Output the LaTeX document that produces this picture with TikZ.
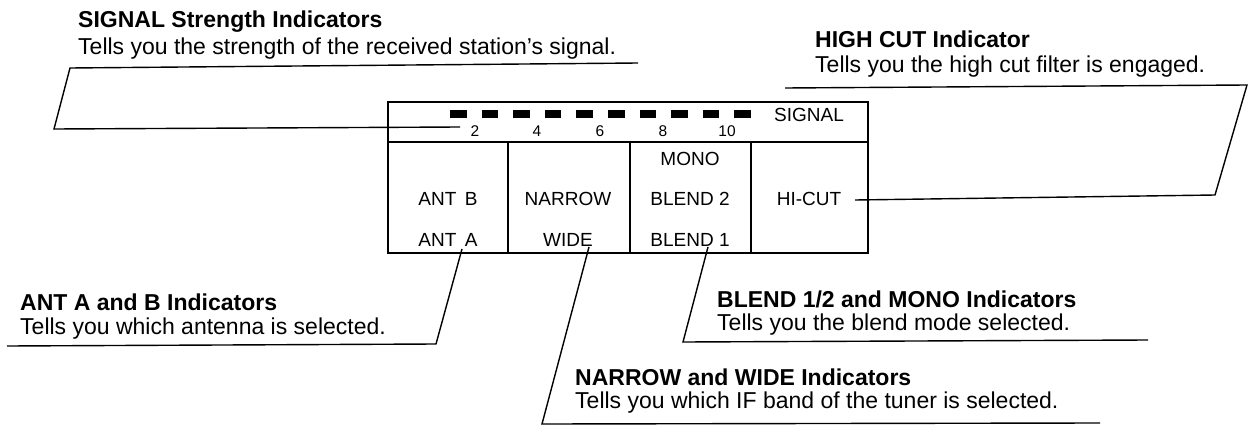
\documentclass[tikz,border=0pt]{standalone}
\usepackage{fontspec}
\setmainfont{Liberation Sans}
\begin{document}
\begin{tikzpicture}[x=1pt,y=-1pt,
  lead/.style={line width=1.4pt, line join=miter},
  panel/.style={line width=1.4pt},
  lbl/.style={font=\fontsize{19}{20}\selectfont, inner sep=0pt},
  num/.style={font=\fontsize{15.5}{16}\selectfont, inner sep=0pt},
  head/.style={font=\fontsize{23}{24}\selectfont\bfseries, inner sep=0pt, anchor=base west},
  desc/.style={font=\fontsize{23}{24}\selectfont, inner sep=0pt, anchor=base west},
  sigbar/.style={fill=black}]
\useasboundingbox (0,0) rectangle (1250,428);

% panel
\draw[panel] (388,102) rectangle (868,253);
\draw[panel] (388,142) -- (868,142);
\draw[panel] (508,142) -- (508,253);
\draw[panel] (630,142) -- (630,253);
\draw[panel] (751,142) -- (751,253);

% signal bars
\foreach \i in {0,...,9}
  \fill[sigbar] ({450+31.6*\i},110) rectangle ++(16.6,8);

% numbers
\node[num] (n2)  at (475,131) {2};
\node[num] (n4)  at (537,131) {4};
\node[num] (n6)  at (600,131) {6};
\node[num] (n8)  at (663,131) {8};
\node[num] (n10) at (727,131) {10};
\node[lbl] (sig) at (809,115) {SIGNAL};

% labels
\node[lbl] (antb)   at (448,199) {ANT\,\ B};
\node[lbl] (anta)   at (448,240) {ANT\,\ A};
\node[lbl] (narrow) at (568,199) {NARROW};
\node[lbl] (wide)   at (568,240) {WIDE};
\node[lbl] (mono)   at (690,159) {MONO};
\node[lbl] (blend2) at (690,199) {BLEND 2};
\node[lbl] (blend1) at (690,240) {BLEND 1};
\node[lbl] (hicut)  at (809,199) {HI-CUT};

% callout texts
\node[head] (sigH) at (78,28) {SIGNAL Strength Indicators};
\node[desc] (sigD) at (78,55) {Tells you the strength of the received station’s signal.};
\node[head] (hcH) at (815,48) {HIGH CUT Indicator};
\node[desc] (hcD) at (815,73) {Tells you the high cut filter is engaged.};
\node[head] (antH) at (20,310) {ANT A and B Indicators};
\node[desc] (antD) at (20,334) {Tells you which antenna is selected.};
\node[head] (blH) at (717,307) {BLEND 1/2 and MONO Indicators};
\node[desc] (blD) at (717,330) {Tells you the blend mode selected.};
\node[head] (nwH) at (575,385) {NARROW and WIDE Indicators};
\node[desc] (nwD) at (575,408) {Tells you which IF band of the tuner is selected.};

% leader corners
\coordinate (s0) at (460,127);
\coordinate (s1) at (54,129);
\coordinate (s2) at (70,68);
\coordinate (s3) at (638,63);
\coordinate (h0) at (855,200);
\coordinate (h1) at (1215,195);
\coordinate (h2) at (1247,85);
\coordinate (h3) at (785,88);
\coordinate (a0) at (462,249);
\coordinate (a1) at (436,344);
\coordinate (a2) at (7,346);
\coordinate (w0) at (589,247);
\coordinate (w1) at (542,424);
\coordinate (w2) at (1100,423);
\coordinate (b0) at (708,247);
\coordinate (b1) at (683,342);
\coordinate (b2) at (1148,340);

\draw[lead] (s0) -- (s1) -- (s2) -- (s3);
\draw[lead] (h0) -- (h1) -- (h2) -- (h3);
\draw[lead] (a0) -- (a1) -- (a2);
\draw[lead] (w0) -- (w1) -- (w2);
\draw[lead] (b0) -- (b1) -- (b2);
\end{tikzpicture}
\end{document}
